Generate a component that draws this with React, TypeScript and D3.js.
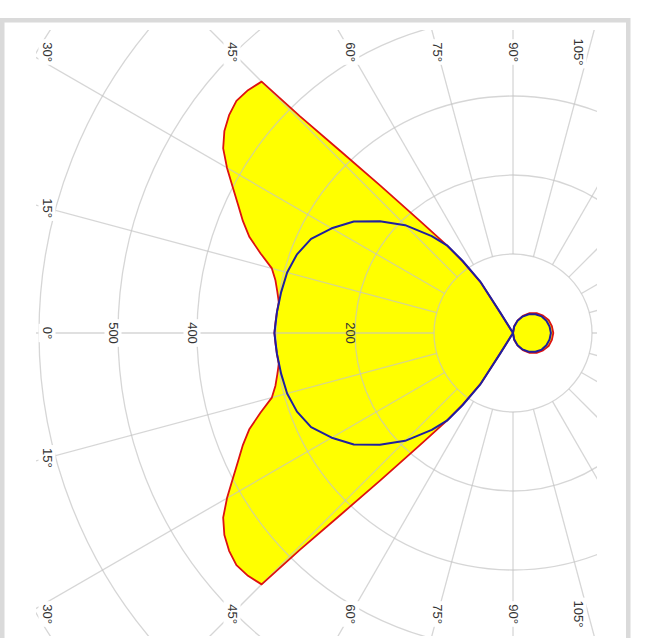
import React from 'react';
import * as d3 from 'd3';

const W = 651;
const H = 638;

// Photometric data (gamma in degrees, intensity in cd/klm)
const redGamma = [0, 2.5, 5, 7.5, 10, 12.5, 15, 17.5, 20, 22.5, 25, 27.5, 30, 32.5, 35, 37.5, 40, 42.5, 45, 45.5, 46.5, 48, 50.3, 53, 55, 57.5, 58, 60, 100, 110, 120, 130, 140, 150, 160, 170, 180];
const redI = [302, 301, 300, 299, 303, 308, 316, 335, 355, 370, 384, 400, 418, 435, 446, 453, 457, 455, 450, 385, 318, 251, 184, 139, 110, 75, 30, 0, 9, 17, 25, 33, 39, 44, 48, 50, 51];

const blueGamma = [0, 5, 10, 15, 20, 25, 30, 35, 40, 45, 50, 53, 55, 57.5, 58, 60, 100, 110, 120, 130, 140, 150, 160, 170, 180];
const blueI = [302, 300, 298, 296, 291, 282, 265, 246, 220, 193, 160, 139, 112, 78, 30, 0, 8, 16, 24, 31, 37, 42, 45, 47, 48];

const gridValues = [100, 200, 300, 400, 500, 600, 700];
const valueLabels = [200, 400, 500];
const angleLabels = [0, 15, 30, 45, 60, 75, 90, 105];
const radialAngles = d3.range(0, 360, 15);

const cx = 513;
const cy = 333;
const rScale = d3.scaleLinear().domain([0, 100]).range([0, 79]);

const clip = { x0: 36, y0: 30, x1: 597, y1: 636 };

type P = [number, number];

function buildPoints(gam: number[], vals: number[]): P[] {
  const upper: P[] = gam.map((g, i) => [-Math.PI / 2 + (g * Math.PI) / 180, rScale(vals[i])]);
  const lower: P[] = [];
  for (let i = gam.length - 2; i >= 1; i--) {
    lower.push([-Math.PI / 2 - (gam[i] * Math.PI) / 180, rScale(vals[i])]);
  }
  return upper.concat(lower);
}

const radial = d3
  .lineRadial<P>()
  .angle((d) => d[0])
  .radius((d) => d[1])
  .curve(d3.curveLinearClosed);

function anglePos(g: number, side: number): P {
  const rad = (g * Math.PI) / 180;
  const dx = -Math.cos(rad);
  const dy = -side * Math.sin(rad);
  const L = 47, T = 52, B = 614, R = 578;
  let t = Infinity;
  if (dx < -1e-6) t = Math.min(t, (L - cx) / dx);
  if (dy < -1e-6) t = Math.min(t, (T - cy) / dy);
  if (dy > 1e-6) t = Math.min(t, (B - cy) / dy);
  let x = cx + dx * t;
  let y = cy + dy * t;
  x = Math.max(L, Math.min(R, x));
  // snap to the corner when the ray meets the side close to it
  if (y < T + 20) y = T;
  if (y > B - 20) y = B;
  return [x, y];
}

const font = "'Liberation Sans', Arial, sans-serif";

function Label({ x, y, text, bg }: { x: number; y: number; text: string; bg: boolean }) {
  const len = text.replace('°', '').length * 7.2 + (text.includes('°') ? 5.2 : 0);
  return (
    <g transform={`translate(${x},${y}) rotate(90)`}>
      {bg && <rect x={-len / 2 - 3} y={-8.5} width={len + 6} height={17} fill="#ffffff" />}
      <text
        x={0}
        y={0}
        textAnchor="middle"
        dominantBaseline="central"
        fontFamily={font}
        fontSize={13}
        fill="#333333"
      >
        {text}
      </text>
    </g>
  );
}

export default function App() {
  const redPath = radial(buildPoints(redGamma, redI)) || '';
  const bluePath = radial(buildPoints(blueGamma, blueI)) || '';
  const rMax = rScale(gridValues[gridValues.length - 1]);

  const labels: { x: number; y: number; text: string }[] = [];
  angleLabels.forEach((g) => {
    const sides = g === 0 ? [1] : [1, -1];
    sides.forEach((s) => {
      const [x, y] = anglePos(g, s);
      labels.push({ x, y, text: `${g}°` });
    });
  });

  return (
    <svg
      width={W}
      height={H}
      viewBox={`0 0 ${W} ${H}`}
      style={{ position: 'absolute', left: 0, top: 0, background: '#ffffff' }}
    >
      <defs>
        <clipPath id="plotClip">
          <rect x={clip.x0} y={clip.y0} width={clip.x1 - clip.x0} height={clip.y1 - clip.y0} />
        </clipPath>
      </defs>
      <rect x={2.25} y={20.25} width={626} height={640} fill="#ffffff" stroke="#dadada" strokeWidth={4.5} />

      <g transform={`translate(${cx},${cy})`}>
        <path d={redPath} fill="#ffff00" stroke="none" />
      </g>

      <g clipPath="url(#plotClip)" stroke="#c4c4c4" strokeOpacity={0.7} strokeWidth={1.3} fill="none">
        {gridValues.map((v) => (
          <circle key={v} cx={cx} cy={cy} r={rScale(v)} />
        ))}
        {radialAngles.map((a) => {
          const rad = (a * Math.PI) / 180;
          const r0 = rScale(100);
          return (
            <line
              key={a}
              x1={cx - r0 * Math.cos(rad)}
              y1={cy - r0 * Math.sin(rad)}
              x2={cx - rMax * Math.cos(rad)}
              y2={cy - rMax * Math.sin(rad)}
            />
          );
        })}
      </g>

      {labels.map((l, i) => (
        <Label key={i} x={l.x} y={l.y} text={l.text} bg={true} />
      ))}
      {valueLabels.map((v) => (
        <Label key={v} x={cx - rScale(v) - 5} y={cy} text={`${v}`} bg={v > redI[0]} />
      ))}

      <g transform={`translate(${cx},${cy})`} fill="none" strokeLinejoin="round">
        <path d={redPath} stroke="#dd1111" strokeWidth={1.8} />
        <path d={bluePath} stroke="#1f1fa0" strokeWidth={2} />
      </g>
    </svg>
  );
}
